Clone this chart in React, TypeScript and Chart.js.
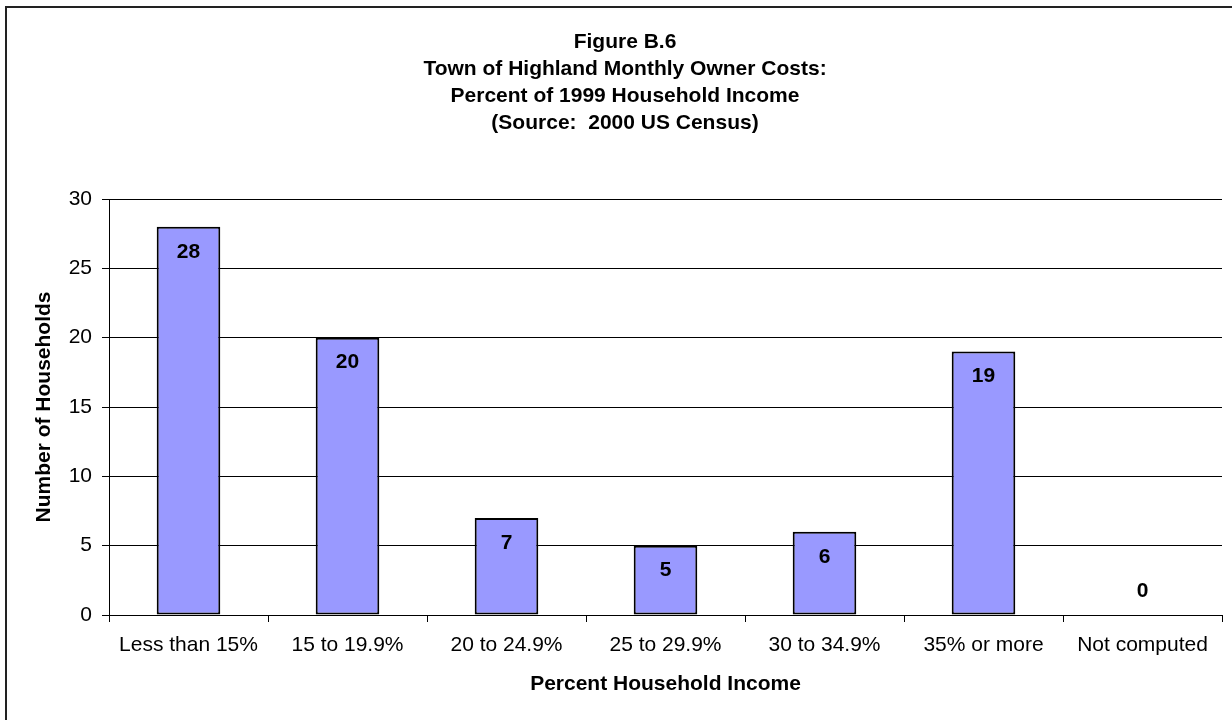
import React, { useEffect, useRef } from "react";
import { Chart, registerables } from "chart.js";

Chart.register(...registerables);

const categories = [
  "Less than 15%",
  "15 to 19.9%",
  "20 to 24.9%",
  "25 to 29.9%",
  "30 to 34.9%",
  "35% or more",
  "Not computed",
];
const households = [28, 20, 7, 5, 6, 19, 0];
const yMin = 0;
const yMax = 30;
const yStep = 5;
const titleLines = [
  "Figure B.6",
  "Town of Highland Monthly Owner Costs:",
  "Percent of 1999 Household Income",
  "(Source:  2000 US Census)",
];
const xTitle = "Percent Household Income";
const yTitle = "Number of Households";

const FONT = "'Liberation Sans', Arial, sans-serif";

const framePlugin = {
  id: "frame",
  beforeDraw(chart: any) {
    const { ctx, width, height } = chart;
    ctx.save();
    ctx.fillStyle = "#ffffff";
    ctx.fillRect(0, 0, width, height);
    ctx.strokeStyle = "#222222";
    ctx.lineWidth = 2;
    ctx.beginPath();
    ctx.moveTo(6, height + 5);
    ctx.lineTo(6, 7);
    ctx.lineTo(width + 5, 7);
    ctx.stroke();
    ctx.restore();
  },
};

const valueLabelPlugin = {
  id: "valueLabels",
  afterDatasetsDraw(chart: any) {
    const { ctx } = chart;
    const meta = chart.getDatasetMeta(0);
    const data = chart.data.datasets[0].data as number[];
    ctx.save();
    ctx.font = `bold 21px ${FONT}`;
    ctx.fillStyle = "#000000";
    ctx.textAlign = "center";
    ctx.textBaseline = "middle";
    meta.data.forEach((bar: any, i: number) => {
      const v = data[i];
      const y = v > 0 ? bar.y + 25 : bar.base - 24;
      ctx.fillText(String(v), bar.x, y);
    });
    ctx.restore();
  },
};

export default function App() {
  const canvasRef = useRef<HTMLCanvasElement | null>(null);

  useEffect(() => {
    document.body.style.margin = "0";
    const canvas = canvasRef.current;
    if (!canvas) return;
    const chart = new Chart(canvas, {
      type: "bar",
      data: {
        labels: categories,
        datasets: [
          {
            data: households,
            backgroundColor: "#9999FF",
            borderColor: "#000000",
            borderWidth: 2,
            borderSkipped: false,
            categoryPercentage: 1,
            barPercentage: 0.4,
          },
        ],
      },
      options: {
        responsive: false,
        animation: false,
        devicePixelRatio: 1,
        layout: { padding: { left: 28, right: 10, top: 0, bottom: 0 } },
        plugins: {
          legend: { display: false },
          tooltip: { enabled: false },
          title: {
            display: true,
            text: titleLines,
            color: "#000000",
            font: { family: FONT, size: 21, weight: "bold", lineHeight: 1.28 },
            padding: { top: 29, bottom: 62.5 },
          },
        },
        scales: {
          x: {
            afterFit(scale: any) {
              scale.height = 105;
            },
            border: { display: true, color: "#000000", width: 1 },
            grid: {
              display: true,
              drawOnChartArea: false,
              drawTicks: true,
              tickLength: 7,
              offset: true,
              color: "#000000",
            },
            ticks: {
              color: "#000000",
              font: { family: FONT, size: 21 },
              padding: 11,
              maxRotation: 0,
              autoSkip: false,
            },
            title: {
              display: true,
              text: xTitle,
              color: "#000000",
              font: { family: FONT, size: 21, weight: "bold" },
              padding: { top: 0, bottom: 23 },
            },
          },
          y: {
            min: yMin,
            max: yMax,
            afterFit(scale: any) {
              scale.width = 81;
            },
            border: { display: true, color: "#000000", width: 1 },
            grid: {
              display: true,
              drawOnChartArea: true,
              drawTicks: true,
              tickLength: 7,
              color: "#000000",
              lineWidth: 1,
            },
            ticks: {
              stepSize: yStep,
              color: "#000000",
              font: { family: FONT, size: 21 },
              padding: 10,
            },
            title: {
              display: true,
              text: yTitle,
              color: "#000000",
              font: { family: FONT, size: 21, weight: "bold" },
              padding: { top: 4, bottom: 0 },
            },
          },
        },
      },
      plugins: [framePlugin, valueLabelPlugin],
    });
    return () => chart.destroy();
  }, []);

  return (
    <div style={{ width: 1232, height: 720, position: "relative" }}>
      <canvas ref={canvasRef} width={1232} height={720} style={{ display: "block" }} />
    </div>
  );
}
